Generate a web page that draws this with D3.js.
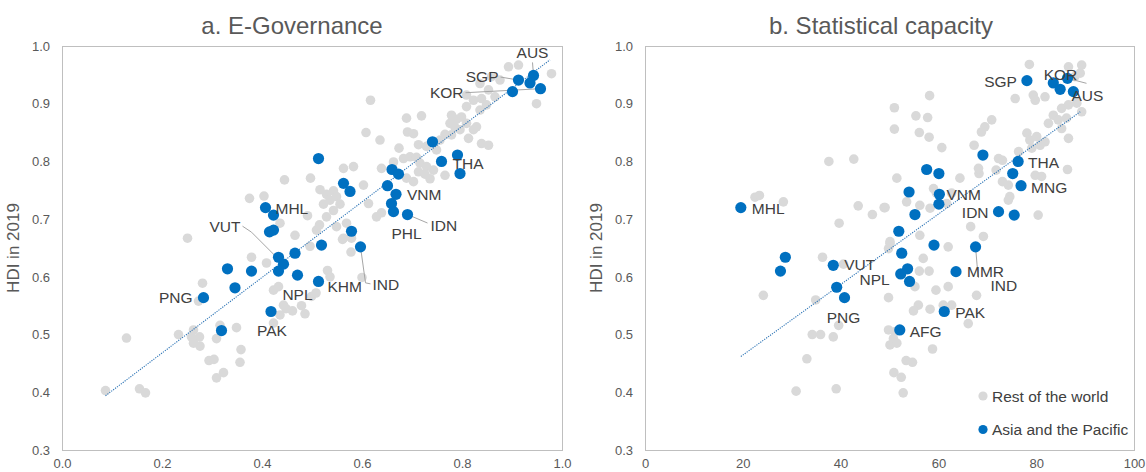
<!DOCTYPE html>
<html>
<head>
<meta charset="utf-8">
<script src="https://cdn.jsdelivr.net/npm/d3@7"></script>
<style>
  body { margin: 0; background: #fff; }
  svg { display: block; font-family: "Liberation Sans", Arial, sans-serif; }
</style>
</head>
<body>
<svg width="1146" height="472"></svg>
<script>
// ---- data ----
// a. E-Governance : [index, HDI]
var egovRest = [
  [0.617,0.906],[0.893,0.964],[0.913,0.967],[0.979,0.952],[0.949,0.900],[0.859,0.947],[0.876,0.941],
  [0.836,0.935],[0.853,0.924],[0.809,0.915],[0.823,0.906],[0.839,0.909],[0.809,0.895],[0.836,0.889],
  [0.849,0.898],[0.866,0.912],[0.779,0.880],[0.789,0.873],[0.799,0.877],[0.776,0.866],[0.786,0.859],
  [0.796,0.855],[0.779,0.846],[0.809,0.866],[0.823,0.855],[0.813,0.840],[0.829,0.860],[0.839,0.831],
  [0.853,0.828],[0.689,0.875],[0.719,0.879],[0.608,0.850],[0.636,0.837],[0.691,0.851],[0.703,0.848],
  [0.674,0.823],[0.713,0.829],[0.729,0.826],[0.756,0.837],[0.766,0.847],[0.749,0.820],[0.683,0.805],
  [0.696,0.808],[0.709,0.807],[0.716,0.797],[0.729,0.791],[0.713,0.782],[0.726,0.778],[0.743,0.785],
  [0.736,0.770],[0.766,0.776],[0.703,0.765],[0.689,0.771],[0.563,0.788],[0.583,0.791],[0.603,0.759],
  [0.639,0.788],[0.613,0.727],[0.629,0.704],[0.639,0.711],[0.569,0.693],[0.516,0.751],[0.529,0.743],
  [0.543,0.749],[0.536,0.733],[0.549,0.739],[0.523,0.726],[0.556,0.726],[0.543,0.715],[0.529,0.704],
  [0.509,0.681],[0.549,0.687],[0.563,0.667],[0.663,0.799],[0.445,0.768],[0.497,0.771],[0.375,0.736],
  [0.404,0.740],[0.436,0.693],[0.466,0.672],[0.491,0.706],[0.515,0.690],[0.251,0.667],[0.496,0.653],
  [0.379,0.634],[0.409,0.624],[0.281,0.589],[0.273,0.558],[0.423,0.577],[0.433,0.583],[0.443,0.551],
  [0.448,0.545],[0.461,0.541],[0.479,0.550],[0.436,0.534],[0.423,0.520],[0.316,0.516],[0.349,0.512],
  [0.233,0.500],[0.263,0.508],[0.259,0.496],[0.275,0.496],[0.263,0.485],[0.276,0.480],[0.309,0.493],
  [0.129,0.494],[0.358,0.474],[0.356,0.452],[0.294,0.455],[0.304,0.457],[0.309,0.425],[0.323,0.434],
  [0.087,0.403],[0.155,0.406],[0.167,0.399],[0.531,0.611],[0.499,0.566],[0.578,0.643],[0.600,0.599],
  [0.561,0.665],[0.579,0.667],[0.508,0.572],[0.486,0.536],[0.536,0.600]
];
var egovAsia = [
  [0.943,0.949,"AUS"],[0.913,0.941,"SGP"],[0.936,0.936,""],[0.957,0.926,"KOR"],[0.901,0.921,""],
  [0.741,0.834,""],[0.759,0.800,"THA"],[0.791,0.811,""],[0.796,0.779,""],[0.660,0.786,""],
  [0.673,0.778,""],[0.651,0.758,""],[0.668,0.743,"VNM"],[0.659,0.727,""],[0.663,0.713,"PHL"],
  [0.691,0.708,"IDN"],[0.513,0.805,""],[0.563,0.762,""],[0.576,0.748,""],[0.579,0.679,""],
  [0.519,0.655,""],[0.597,0.652,"IND"],[0.407,0.720,"MHL"],[0.423,0.707,""],[0.415,0.678,""],
  [0.423,0.681,""],[0.331,0.614,""],[0.379,0.610,""],[0.346,0.581,""],[0.283,0.564,"PNG"],
  [0.319,0.507,""],[0.418,0.540,"PAK"],[0.433,0.634,""],[0.443,0.622,"VUT"],[0.433,0.610,""],
  [0.466,0.641,""],[0.471,0.603,"NPL"],[0.513,0.592,"KHM"]
];
var egovTrendX = [0.087, 0.976];
var egovTrendY = [0.394, 0.976];
var egovXTicks = [0, 0.2, 0.4, 0.6, 0.8, 1.0];

// b. Statistical capacity : [score, HDI]
var statRest = [
  [22.5,0.738],[23.4,0.741],[28.3,0.730],[37.6,0.800],[42.7,0.804],[43.6,0.723],[46.5,0.708],
  [48.9,0.720],[39.7,0.693],[49.8,0.649],[78.6,0.968],[86.6,0.964],[89.3,0.967],[89.0,0.953],
  [87.9,0.947],[79.4,0.915],[81.8,0.912],[75.7,0.909],[79.8,0.906],[85.2,0.892],[86.6,0.898],
  [88.3,0.901],[89.3,0.886],[83.5,0.880],[82.5,0.866],[84.5,0.872],[86.2,0.875],[85.2,0.857],
  [86.6,0.840],[78.1,0.849],[78.7,0.837],[80.1,0.843],[80.8,0.828],[81.8,0.834],[79.1,0.823],
  [76.4,0.817],[86.4,0.786],[79.8,0.776],[81.1,0.774],[70.9,0.872],[69.5,0.860],[68.8,0.851],
  [58.2,0.914],[51.0,0.893],[51.0,0.856],[55.4,0.879],[57.8,0.876],[56.1,0.850],[58.1,0.842],
  [60.7,0.824],[67.3,0.828],[72.3,0.805],[73.1,0.802],[64.4,0.771],[68.3,0.779],[68.2,0.788],
  [73.1,0.765],[74.3,0.759],[71.8,0.785],[74.6,0.739],[74.3,0.733],[51.5,0.771],[59.0,0.753],
  [59.6,0.745],[53.5,0.730],[56.2,0.724],[58.3,0.719],[61.7,0.727],[62.7,0.745],[49.1,0.720],
  [80.4,0.707],[66.6,0.687],[69.2,0.670],[56.2,0.672],[62.0,0.652],[50.1,0.658],[24.2,0.568],
  [36.3,0.634],[40.6,0.622],[34.9,0.560],[39.6,0.516],[34.2,0.500],[35.9,0.500],[38.5,0.496],
  [33.1,0.458],[30.9,0.402],[39.1,0.406],[49.8,0.564],[49.8,0.508],[56.9,0.632],[56.1,0.610],
  [58.1,0.610],[55.2,0.583],[59.5,0.577],[62.0,0.583],[67.8,0.568],[55.9,0.551],[54.9,0.541],
  [58.3,0.544],[61.0,0.551],[62.7,0.551],[66.1,0.519],[51.1,0.505],[50.8,0.493],[50.1,0.482],
  [51.5,0.485],[58.8,0.475],[53.4,0.455],[54.7,0.452],[50.9,0.434],[52.4,0.426],[52.8,0.399],
  [50.1,0.661]
];
var statAsia = [
  [78.1,0.940,"SGP"],[83.5,0.936,""],[84.9,0.925,""],[86.4,0.944,"KOR"],[87.6,0.921,"AUS"],
  [69.1,0.811,""],[76.3,0.800,"THA"],[75.2,0.779,""],[76.9,0.758,"MNG"],[72.3,0.713,"IDN"],
  [75.5,0.707,""],[57.6,0.786,""],[60.1,0.779,""],[54.0,0.747,""],[60.2,0.743,"VNM"],
  [60.1,0.726,""],[55.2,0.708,""],[51.9,0.679,""],[59.1,0.655,""],[67.6,0.652,"IND"],
  [52.5,0.641,""],[53.7,0.614,""],[52.3,0.605,"NPL"],[54.1,0.592,""],[63.6,0.609,"MMR"],
  [61.2,0.540,"PAK"],[52.1,0.508,"AFG"],[19.6,0.720,"MHL"],[28.7,0.634,""],[27.7,0.610,""],
  [38.5,0.620,"VUT"],[39.2,0.582,""],[40.8,0.564,"PNG"]
];
var statTrendX = [19.6, 89.0];
var statTrendY = [0.462, 0.886];
var statXTicks = [0, 20, 40, 60, 80, 100];

var yTicks = [0.3, 0.4, 0.5, 0.6, 0.7, 0.8, 0.9, 1.0];
var seriesNames = ["Rest of the world", "Asia and the Pacific"];

// label placement (pixels relative to the dot)
var egovLabelPos = {
  AUS: { dx: -1, dy: -17, anchor: "middle", leader: [[0, 0], [-1, -13]] },
  SGP: { dx: -20, dy: 2, anchor: "end", leader: [[0, 0], [-18, -3]] },
  KOR: { dx: -77, dy: 9, anchor: "end", leader: [[0, 0], [-75, 4]] },
  THA: { dx: 11, dy: 8, anchor: "start" },
  VNM: { dx: 11, dy: 6, anchor: "start" },
  IDN: { dx: 23, dy: 16, anchor: "start", leader: [[0, 0], [20, 8.5]] },
  PHL: { dx: 13, dy: 27, anchor: "middle" },
  MHL: { dx: 10, dy: 6, anchor: "start" },
  VUT: { dx: -43, dy: -32, anchor: "end", leader: [[0, 0], [-32, -32], [-41, -38]] },
  PNG: { dx: -11, dy: 5, anchor: "end" },
  NPL: { dx: 0, dy: 25, anchor: "middle" },
  PAK: { dx: 1, dy: 25, anchor: "middle" },
  KHM: { dx: 9, dy: 11, anchor: "start" },
  IND: { dx: 12, dy: 43, anchor: "start", leader: [[0, 0], [5, 36], [10, 37]] }
};
var statLabelPos = {
  SGP: { dx: -10, dy: 6, anchor: "end" },
  KOR: { dx: -7, dy: 2, anchor: "middle", leader: [[0, 0], [19, 5]] },
  AUS: { dx: 14, dy: 9, anchor: "middle" },
  THA: { dx: 10, dy: 7, anchor: "start" },
  MNG: { dx: 10, dy: 7, anchor: "start" },
  VNM: { dx: 7, dy: 5.5, anchor: "start" },
  IDN: { dx: -10, dy: 6, anchor: "end" },
  MHL: { dx: 11, dy: 6, anchor: "start" },
  VUT: { dx: 11, dy: 4.5, anchor: "start" },
  NPL: { dx: -11, dy: 11, anchor: "end" },
  PNG: { dx: -1, dy: 25, anchor: "middle" },
  MMR: { dx: 11, dy: 5, anchor: "start" },
  IND: { dx: 15, dy: 44, anchor: "start", leader: [[0, 0], [1.5, 18], [3, 31]] },
  PAK: { dx: 11, dy: 7, anchor: "start" },
  AFG: { dx: 10, dy: 7, anchor: "start" }
};

var svg = d3.select("svg");
var grey = "#d9d9d9", blue = "#0070c0";

var y = d3.scaleLinear().domain([0.3, 1.0]).range([450, 46]);

function drawPanel(p) {
  var x = d3.scaleLinear().domain(p.xDomain).range(p.xRange);
  var g = svg.append("g");

  g.append("text")
    .attr("x", p.titleX).attr("y", 34)
    .attr("text-anchor", "middle")
    .style("font-size", "24px").attr("fill", "#595959")
    .text(p.title);

  g.append("text")
    .attr("transform", "translate(" + (p.xRange[0] - 43) + ",248) rotate(-90)")
    .attr("text-anchor", "middle")
    .style("font-size", "17px").attr("fill", "#595959")
    .text("HDI in 2019");

  g.append("rect")
    .attr("x", p.xRange[0] + 0.5).attr("y", 46.5)
    .attr("width", p.xRange[1] - p.xRange[0]).attr("height", 450 - 46)
    .attr("fill", "none").attr("stroke", "#bfbfbf");

  var xAxis = g.append("g")
    .attr("transform", "translate(0,450)")
    .call(d3.axisBottom(x).tickValues(p.xTicks).tickFormat(d3.format(p.xFormat)).tickSize(0).tickPadding(9));
  var yAxis = g.append("g")
    .attr("transform", "translate(" + p.xRange[0] + ",0)")
    .call(d3.axisLeft(y).tickValues(yTicks).tickFormat(d3.format(".1f")).tickSize(0).tickPadding(12));
  [xAxis, yAxis].forEach(function(a) {
    a.select(".domain").remove();
    a.selectAll("text")
      .style("font-size", "13px")
      .style("font-family", "'Liberation Sans', Arial, sans-serif")
      .attr("fill", "#595959");
  });

  g.append("g").selectAll("circle")
    .data(p.rest).enter().append("circle")
    .attr("cx", function(d) { return x(d[0]); })
    .attr("cy", function(d) { return y(d[1]); })
    .attr("r", 4.8)
    .attr("fill", grey);

  g.append("line")
    .attr("x1", x(p.trendX[0])).attr("y1", y(p.trendY[0]))
    .attr("x2", x(p.trendX[1])).attr("y2", y(p.trendY[1]))
    .attr("stroke", "#2e75b6").attr("stroke-width", 1.1)
    .attr("stroke-dasharray", "1.2,1.2");

  // leader lines
  var labelled = p.asia.filter(function(d) { return d[2] !== ""; });
  labelled.forEach(function(d) {
    var pos = p.labelPos[d[2]];
    if (!pos || !pos.leader) return;
    var cx = x(d[0]), cy = y(d[1]);
    g.append("path")
      .attr("d", d3.line()(pos.leader.map(function(q) { return [cx + q[0], cy + q[1]]; })))
      .attr("fill", "none").attr("stroke", "#a6a6a6").attr("stroke-width", 1);
  });

  g.append("g").selectAll("circle")
    .data(p.asia).enter().append("circle")
    .attr("cx", function(d) { return x(d[0]); })
    .attr("cy", function(d) { return y(d[1]); })
    .attr("r", 5.6)
    .attr("fill", blue);

  g.append("g").selectAll("text")
    .data(labelled).enter().append("text")
    .attr("x", function(d) { return x(d[0]) + p.labelPos[d[2]].dx; })
    .attr("y", function(d) { return y(d[1]) + p.labelPos[d[2]].dy; })
    .attr("text-anchor", function(d) { return p.labelPos[d[2]].anchor; })
    .style("font-size", "15.5px").attr("fill", "#404040")
    .text(function(d) { return d[2]; });

  return x;
}

drawPanel({
  title: "a. E-Governance", titleX: 292,
  xDomain: [0, 1], xRange: [62, 562], xTicks: egovXTicks, xFormat: ".1f",
  rest: egovRest, asia: egovAsia, trendX: egovTrendX, trendY: egovTrendY,
  labelPos: egovLabelPos
});

drawPanel({
  title: "b. Statistical capacity", titleX: 881,
  xDomain: [0, 100], xRange: [645, 1134], xTicks: statXTicks, xFormat: "d",
  rest: statRest, asia: statAsia, trendX: statTrendX, trendY: statTrendY,
  labelPos: statLabelPos
});

// legend (right panel)
var legend = svg.append("g").attr("transform", "translate(983,396)");
legend.selectAll("g")
  .data(seriesNames).enter().append("g")
  .attr("transform", function(d, i) { return "translate(0," + (i * 33.5) + ")"; })
  .each(function(d, i) {
    var item = d3.select(this);
    item.append("circle").attr("r", 4.6).attr("fill", i === 0 ? grey : blue);
    item.append("text")
      .attr("x", 9).attr("y", 5.5)
      .style("font-size", "15.5px").attr("fill", "#404040")
      .text(d);
  });
</script>
</body>
</html>
